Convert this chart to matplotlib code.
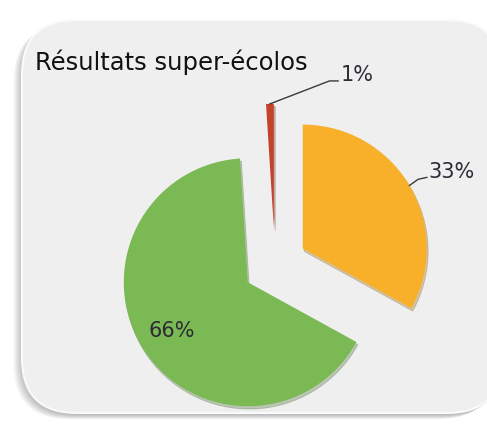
import numpy as np
import matplotlib.pyplot as plt
from matplotlib.patches import FancyBboxPatch, Shadow

# data
labels = ["33%", "66%", "1%"]
values = [33, 66, 1]
colors = ["#F8B02B", "#7AB953", "#C4412A"]
explode = [0.26, 0.26, 0.30]
title = "Résultats super-écolos"

W, H = 487, 425
fig = plt.figure(figsize=(W / 100, H / 100), dpi=100, facecolor="white")

# panel background in pixel coords
bg = fig.add_axes([0, 0, 1, 1])
bg.set_xlim(0, W)
bg.set_ylim(H, 0)
bg.axis("off")
for k in range(8):
    bg.add_patch(FancyBboxPatch((22 - 1.2 * k, 22 + 0.6 * k), 480, 393,
                                boxstyle="round,pad=0,rounding_size=55",
                                fc="#000000", ec="none", alpha=0.035))
bg.add_patch(FancyBboxPatch((22, 20), 480, 393, boxstyle="round,pad=0,rounding_size=55",
                            fc="#EFEFEF", ec="#FAFAFA", lw=1.5))

# pie, 124 px per unit, centre at (275, 265) px
ax = fig.add_axes([0, 0, 1, 1])
ax.patch.set_visible(False)
wedges, _ = ax.pie(values, colors=colors, startangle=90, counterclock=False,
                   explode=explode, radius=1,
                   wedgeprops=dict(linewidth=0.6, edgecolor="none"))
for w in wedges:
    sh = Shadow(w, 0.008, -0.016, shade=0.45, alpha=0.3)
    sh.set_zorder(w.get_zorder() - 0.5)
    ax.add_patch(sh)
ax.set_xlim(-275 / 124, (W - 275) / 124)
ax.set_ylim(-(H - 265) / 124, 265 / 124)
ax.set_aspect("auto")
ax.axis("off")

def mid(w):
    t = np.deg2rad((w.theta1 + w.theta2) / 2)
    return np.array(w.center), np.array([np.cos(t), np.sin(t)])

lab_font = dict(family="DejaVu Sans", fontsize=15, color="#2B2C34")

# 33% orange, outside with short leader
c, d = mid(wedges[0])
p = c + d
ax.plot([p[0], p[0] + 0.07, p[0] + 0.14], [p[1], p[1] + 0.05, p[1] + 0.065],
        color="#3A3A3A", lw=1)
ax.text(p[0] + 0.15, p[1] + 0.11, labels[0], ha="left", va="center", **lab_font)

# 66% green, inside
c, d = mid(wedges[1])
p = c + 0.73 * d
ax.text(p[0], p[1], labels[1], ha="center", va="center", **lab_font)

# 1% red, outside with leader
c, d = mid(wedges[2])
p = c + d
ax.plot([p[0], p[0] + 0.48, p[0] + 0.55], [p[1], p[1] + 0.185, p[1] + 0.185],
        color="#3A3A3A", lw=1)
ax.text(p[0] + 0.57, p[1] + 0.23, labels[2], ha="left", va="center", **lab_font)

fig.text(35 / W, 1 - 62 / H, title, ha="left", va="center",
         family="DejaVu Sans", fontsize=17.5, color="#111111")

fig.savefig("out.png", dpi=100, facecolor="white")
